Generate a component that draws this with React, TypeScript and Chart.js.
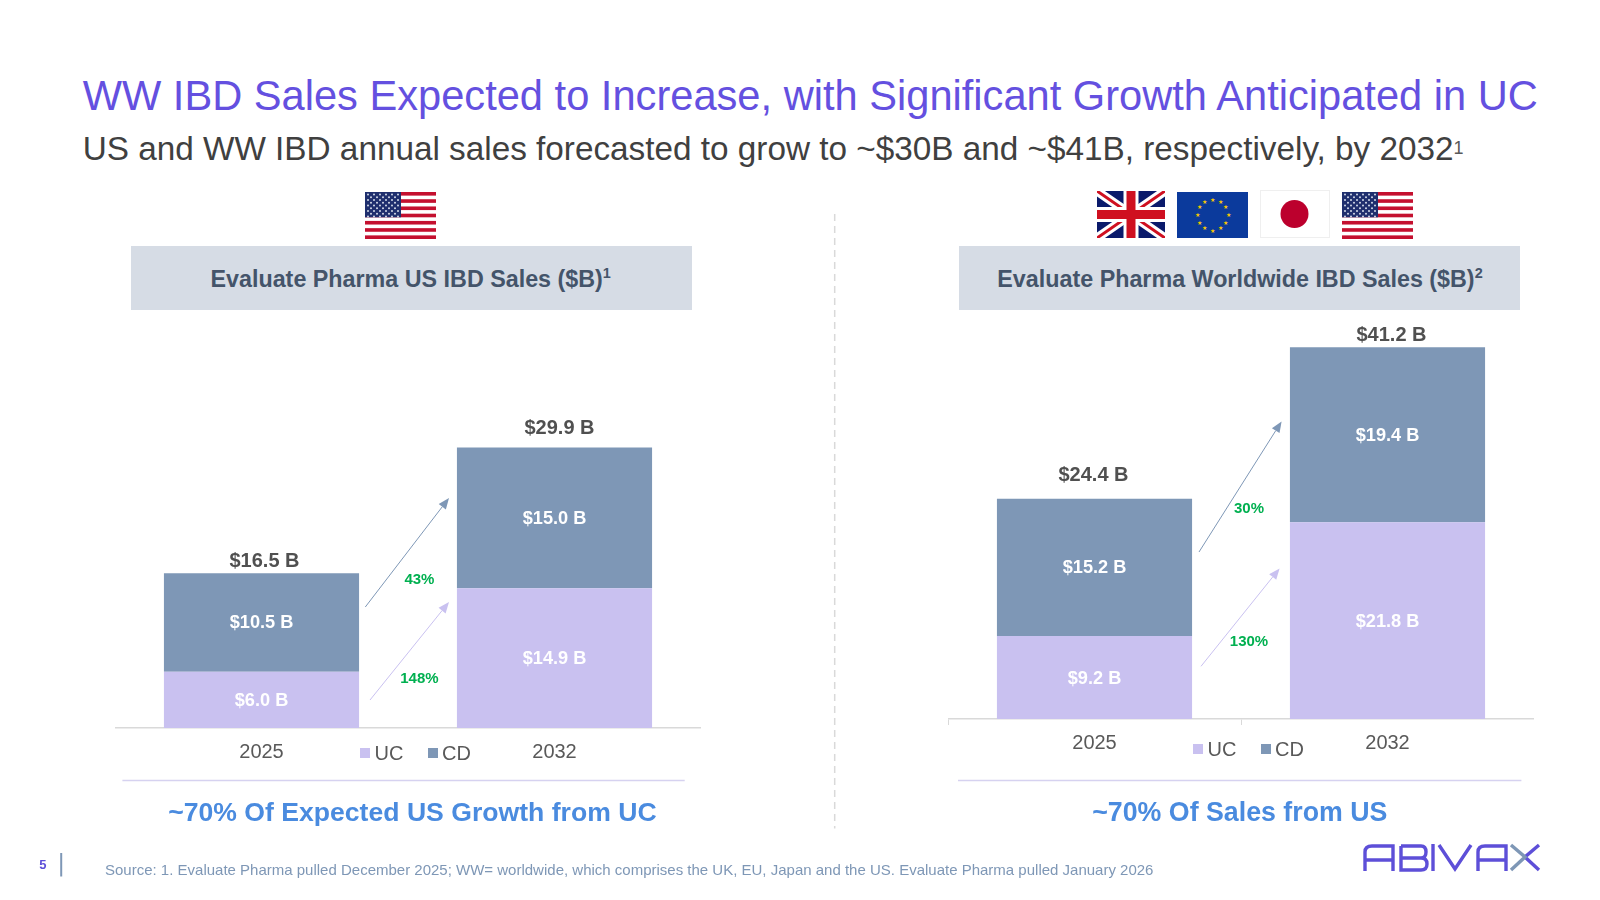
import React, { useEffect, useRef } from "react";
import { Chart, registerables } from "chart.js";

Chart.register(...registerables);

const years = ["2025", "2032"];
const usUc = [6.0, 14.9];
const usCd = [10.5, 15.0];
const usTotals = [16.5, 29.9];
const wwUc = [9.2, 21.8];
const wwCd = [15.2, 19.4];
const wwTotals = [24.4, 41.2];

const UC_COLOR = "#c9c1f0";
const CD_COLOR = "#7e97b6";
const FONT = '"Liberation Sans", Arial, sans-serif';

const money = (v: number) => `$${v.toFixed(1)} B`;

// draws the value labels inside the segments and the totals above the bars
const barLabels = {
  id: "barLabels",
  afterDatasetsDraw(chart: any, _args: any, opts: any) {
    const { ctx } = chart;
    ctx.save();
    ctx.textAlign = "center";
    ctx.textBaseline = "middle";
    chart.data.datasets.forEach((ds: any, d: number) => {
      chart.getDatasetMeta(d).data.forEach((bar: any, i: number) => {
        ctx.font = `bold 18.2px ${FONT}`;
        ctx.fillStyle = "#ffffff";
        ctx.fillText(money(ds.data[i]), bar.x, (bar.y + bar.base) / 2 + 1);
      });
    });
    const top = chart.getDatasetMeta(1).data;
    opts.totals.forEach((t: number, i: number) => {
      ctx.font = `bold 20px ${FONT}`;
      ctx.fillStyle = "#505050";
      ctx.fillText(money(t), top[i].x + opts.shiftX[i], top[i].y - opts.shiftY[i]);
    });
    ctx.restore();
  },
};

interface StackedProps {
  uc: number[];
  cd: number[];
  totals: number[];
  left: number;
  top: number;
  width: number;
  height: number;
  yMax: number;
  shiftX: number[];
  shiftY: number[];
  ticks: boolean;
}

const StackedBars: React.FC<StackedProps> = (p) => {
  const ref = useRef<HTMLCanvasElement>(null);

  useEffect(() => {
    const chart = new Chart(ref.current!, {
      type: "bar",
      data: {
        labels: years,
        datasets: [
          { label: "UC", data: p.uc, backgroundColor: UC_COLOR },
          { label: "CD", data: p.cd, backgroundColor: CD_COLOR },
        ],
      },
      options: {
        animation: false,
        responsive: false,
        layout: { padding: 0 },
        datasets: { bar: { barPercentage: 1, categoryPercentage: 0.666 } },
        plugins: {
          legend: { display: false },
          tooltip: { enabled: false },
          barLabels: { totals: p.totals, shiftX: p.shiftX, shiftY: p.shiftY },
        } as any,
        scales: {
          x: {
            stacked: true,
            border: { color: "#d9d9d9", width: 1.5 },
            grid: {
              drawOnChartArea: false,
              drawTicks: p.ticks,
              tickLength: 6,
              color: "#d9d9d9",
            },
            ticks: {
              color: "#595959",
              padding: p.ticks ? 6 : 12,
              font: { family: FONT, size: 20 },
            },
            afterFit(scale: any) {
              scale.height = 50;
            },
          },
          y: { stacked: true, display: false, min: 0, max: p.yMax },
        },
      },
      plugins: [barLabels],
    });
    return () => chart.destroy();
  }, []);

  return (
    <canvas
      ref={ref}
      width={p.width}
      height={p.height}
      style={{ position: "absolute", left: p.left, top: p.top }}
    />
  );
};

const Txt: React.FC<any> = ({ x, y, center, style, children }) => (
  <div
    style={{
      position: "absolute",
      left: x,
      top: y,
      transform: center ? "translate(-50%,-50%)" : "translateY(-50%)",
      whiteSpace: "nowrap",
      fontFamily: FONT,
      ...style,
    }}
  >
    {children}
  </div>
);

const Sup: React.FC<any> = ({ children, style }) => (
  <span style={{ fontSize: "62%", verticalAlign: "super", lineHeight: 0, ...style }}>{children}</span>
);

const Legend: React.FC<{ x: number; y: number }> = ({ x, y }) => (
  <>
    <div style={{ position: "absolute", left: x, top: y - 5, width: 10, height: 10, background: UC_COLOR }} />
    <Txt x={x + 14.5} y={y} style={{ fontSize: 20, color: "#595959" }}>UC</Txt>
    <div style={{ position: "absolute", left: x + 67.5, top: y - 5, width: 10, height: 10, background: CD_COLOR }} />
    <Txt x={x + 82} y={y} style={{ fontSize: 20, color: "#595959" }}>CD</Txt>
  </>
);

const UsFlag: React.FC<{ x: number; y: number }> = ({ x, y }) => {
  const w = 71;
  const h = 47;
  const sh = h / 13;
  const stripes = [];
  for (let i = 0; i < 13; i += 2) {
    stripes.push(<rect key={i} x={x} y={y + i * sh} width={w} height={sh} fill="#c4102f" />);
  }
  const stars = [];
  for (let r = 0; r < 9; r++) {
    const n = r % 2 ? 5 : 6;
    for (let c = 0; c < n; c++) {
      stars.push(
        <circle key={`${r}-${c}`} cx={x + 3 + (r % 2 ? 3 : 0) + c * 6} cy={y + 2.6 + r * 2.75} r={1} fill="#d5dcea" />
      );
    }
  }
  return (
    <g>
      {stripes}
      <rect x={x} y={y} width={36} height={sh * 7} fill="#1f2f6e" />
      {stars}
    </g>
  );
};

const UkFlag: React.FC<{ x: number; y: number }> = ({ x, y }) => (
  <svg x={x} y={y} width={68} height={47} viewBox="0 0 68 47">
    <rect width="68" height="47" fill="#0a1a6b" />
    <path d="M0 0L68 47M68 0L0 47" stroke="#fff" strokeWidth="9" />
    <path d="M0 0L68 47M68 0L0 47" stroke="#cf1020" strokeWidth="3" />
    <path d="M34 0V47M0 23.5H68" stroke="#fff" strokeWidth="15" />
    <path d="M34 0V47M0 23.5H68" stroke="#cf1020" strokeWidth="9" />
  </svg>
);

const EuFlag: React.FC<{ x: number; y: number }> = ({ x, y }) => {
  const w = 71;
  const h = 46;
  const stars = [];
  for (let i = 0; i < 12; i++) {
    const a = (i * Math.PI) / 6;
    stars.push(
      <text
        key={i}
        x={x + w / 2 + Math.sin(a) * 15.5}
        y={y + h / 2 - Math.cos(a) * 15.5 + 2}
        fontSize="6"
        textAnchor="middle"
        fill="#f7c800"
      >
        ★
      </text>
    );
  }
  return (
    <g>
      <rect x={x} y={y} width={w} height={h} fill="#0b3a9c" />
      {stars}
    </g>
  );
};

const JpFlag: React.FC<{ x: number; y: number }> = ({ x, y }) => (
  <g>
    <rect x={x + 0.5} y={y + 0.5} width={69} height={47} fill="#fff" stroke="#efefef" />
    <circle cx={x + 34.5} cy={y + 24} r={14} fill="#bc002d" />
  </g>
);

const Arrow: React.FC<{ x1: number; y1: number; x2: number; y2: number; color: string }> = ({ x1, y1, x2, y2, color }) => {
  const a = Math.atan2(y2 - y1, x2 - x1);
  const len = 11;
  const wid = 4.5;
  const bx = x2 - Math.cos(a) * len;
  const by = y2 - Math.sin(a) * len;
  const nx = -Math.sin(a) * wid;
  const ny = Math.cos(a) * wid;
  return (
    <g>
      <line x1={x1} y1={y1} x2={bx} y2={by} stroke={color} strokeWidth={1} />
      <polygon points={`${x2},${y2} ${bx + nx},${by + ny} ${bx - nx},${by - ny}`} fill={color} />
    </g>
  );
};

const LOGO = "#5d4fd8";

const Logo: React.FC = () => (
  <svg x={0} y={0} width={1600} height={900} fill="none" stroke={LOGO} strokeWidth={3.4}>
    <title>ABIVAX</title>
    <path d="M1365 871V852Q1365 846 1372 846H1393V871M1365 860H1393" />
    <path d="M1401 846H1421Q1426 846 1426 852T1421 858H1401M1421 858Q1427 858 1427 864T1421 870H1401V846" />
    <path d="M1433 844V871" />
    <path d="M1439 845L1455 869L1471 845" />
    <path d="M1478 871V852Q1478 846 1485 846H1506V871M1478 860H1506" />
    <path d="M1525 857L1539 870M1539 845L1525 857" />
    <path d="M1511 845L1525 857L1511 870" stroke="#7e97b6" />
  </svg>
);

const App: React.FC = () => {
  return (
    <div style={{ position: "fixed", left: 0, top: 0, width: 1600, height: 900, background: "#fff", overflow: "hidden" }}>
      <Txt x={82.7} y={96.4} style={{ fontSize: 41.64, color: "#6450e0" }}>
        WW IBD Sales Expected to Increase, with Significant Growth Anticipated in UC
      </Txt>
      <Txt x={82.7} y={149} style={{ fontSize: 33.3, color: "#404040" }}>
        US and WW IBD annual sales forecasted to grow to ~$30B and ~$41B, respectively, by 2032
        <Sup style={{ fontSize: 18, verticalAlign: 6, color: "#595959" }}>1</Sup>
      </Txt>

      <div style={{ position: "absolute", left: 130.6, top: 246, width: 561, height: 64, background: "#d6dce5" }} />
      <Txt x={410.7} y={278.6} center style={{ fontSize: 23.3, fontWeight: "bold", color: "#44546a" }}>
        Evaluate Pharma US IBD Sales ($B)<Sup>1</Sup>
      </Txt>
      <div style={{ position: "absolute", left: 959, top: 246, width: 561, height: 64, background: "#d6dce5" }} />
      <Txt x={1240} y={278.6} center style={{ fontSize: 23.3, fontWeight: "bold", color: "#44546a" }}>
        Evaluate Pharma Worldwide IBD Sales ($B)<Sup>2</Sup>
      </Txt>

      <StackedBars
        uc={usUc}
        cd={usCd}
        totals={usTotals}
        left={114.6}
        top={408.5}
        width={586}
        height={369}
        yMax={34}
        shiftX={[3, 5]}
        shiftY={[12, 19]}
        ticks={false}
      />
      <StackedBars
        uc={wwUc}
        cd={wwCd}
        totals={wwTotals}
        left={948}
        top={321.8}
        width={586}
        height={447}
        yMax={44}
        shiftX={[-1, 4]}
        shiftY={[23, 12]}
        ticks={true}
      />

      <svg width={1600} height={900} style={{ position: "absolute", left: 0, top: 0 }}>
        <UsFlag x={365} y={192} />
        <UkFlag x={1097} y={191} />
        <EuFlag x={1177} y={192} />
        <JpFlag x={1260} y={190} />
        <UsFlag x={1342} y={192} />
        <line x1={834.7} y1={214} x2={834.7} y2={828.6} stroke="#d9d9d9" strokeWidth={1.5} strokeDasharray="7 5" />
        <line x1={122.4} y1={780.6} x2={684.7} y2={780.6} stroke="#d6d2f0" strokeWidth={1.5} />
        <line x1={958} y1={780.6} x2={1521.4} y2={780.6} stroke="#d6d2f0" strokeWidth={1.5} />
        <Arrow x1={365.3} y1={607} x2={449} y2={498} color={CD_COLOR} />
        <Arrow x1={370} y1={700} x2={449} y2={602} color={UC_COLOR} />
        <Arrow x1={1199} y1={552} x2={1281.6} y2={421.4} color={CD_COLOR} />
        <Arrow x1={1201} y1={666.3} x2={1279.6} y2={568.4} color={UC_COLOR} />
        <line x1={61.2} y1={853} x2={61.2} y2={876.5} stroke={CD_COLOR} strokeWidth={2} />
        <Logo />
      </svg>

      <Txt x={419.4} y={577.6} center style={{ fontSize: 15, fontWeight: "bold", color: "#00b050" }}>43%</Txt>
      <Txt x={419.4} y={677} center style={{ fontSize: 15, fontWeight: "bold", color: "#00b050" }}>148%</Txt>
      <Txt x={1249} y={507} center style={{ fontSize: 15, fontWeight: "bold", color: "#00b050" }}>30%</Txt>
      <Txt x={1249} y={639.8} center style={{ fontSize: 15, fontWeight: "bold", color: "#00b050" }}>130%</Txt>

      <Legend x={360} y={753} />
      <Legend x={1193} y={749} />

      <Txt x={412.4} y={812.2} center style={{ fontSize: 26.6, fontWeight: "bold", color: "#4a8bdf" }}>
        ~70% Of Expected US Growth from UC
      </Txt>
      <Txt x={1239.8} y={812.2} center style={{ fontSize: 26.75, fontWeight: "bold", color: "#4a8bdf" }}>
        ~70% Of Sales from US
      </Txt>

      <Txt x={42.9} y={864.3} center style={{ fontSize: 13, fontWeight: "bold", color: "#5d4fd8" }}>5</Txt>
      <Txt x={105} y={869.4} style={{ fontSize: 15, color: "#7e97b6" }}>
        Source: 1. Evaluate Pharma pulled December 2025; WW= worldwide, which comprises the UK, EU, Japan and the US. Evaluate Pharma pulled January 2026
      </Txt>
    </div>
  );
};

export default App;
